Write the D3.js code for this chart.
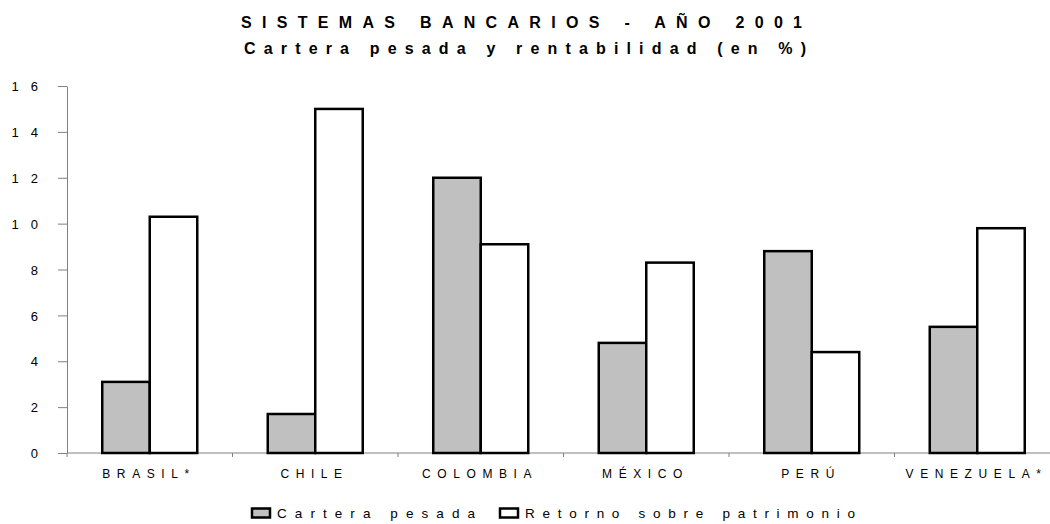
<!DOCTYPE html>
<html><head><meta charset="utf-8">
<script src="https://cdn.jsdelivr.net/npm/d3@7/dist/d3.min.js"></script>
<style>
html,body{margin:0;padding:0;background:#fff;}
svg{display:block;font-family:"Liberation Sans",Arial,sans-serif;}
</style></head>
<body>
<svg id="chart" width="1050" height="524"></svg>
<script>
const categories = ["BRASIL*", "CHILE", "COLOMBIA", "MÉXICO", "PERÚ", "VENEZUELA*"];
const seriesNames = ["Cartera pesada", "Retorno sobre patrimonio"];
const carteraPesada = [3.1, 1.7, 12.0, 4.8, 8.8, 5.5];
const retornoPatrimonio = [10.3, 15.0, 9.1, 8.3, 4.4, 9.8];
const yTicks = [0, 2, 4, 6, 8, 10, 12, 14, 16];
const titleLines = ["SISTEMAS BANCARIOS - AÑO 2001", "Cartera pesada y rentabilidad (en %)"];
const colors = ["#c0c0c0", "#ffffff"];

const svg = d3.select("#chart");
const left = 67, baseY = 453, topY = 86, step = 165.5;

const x = d3.scaleBand().domain(categories).range([left, left + step * categories.length]).padding(0);
const xs = d3.scaleBand().domain([0, 1]).range([0, x.bandwidth()]).paddingInner(0).paddingOuter(0.742);
const y = d3.scaleLinear().domain([0, 16]).range([baseY, topY]);

// spread letters so the text spans a target width
function fit(sel, width) {
  sel.attr("letter-spacing", 0);
  const n = sel.text().length;
  const w = sel.node().getComputedTextLength();
  const ls = (width - w) / (n - 1);
  sel.attr("letter-spacing", ls);
  return ls;
}

// title
const t1 = svg.append("text").attr("x", 241).attr("y", 28).attr("font-weight", "bold").attr("font-size", 16).attr("fill", "#000").text(titleLines[0]);
fit(t1, 561);
const t2 = svg.append("text").attr("x", 244).attr("y", 54).attr("font-weight", "bold").attr("font-size", 16).attr("fill", "#000").text(titleLines[1]);
fit(t2, 562);

// y axis
const yAxis = d3.axisLeft(y).tickValues(yTicks).tickSize(9).tickSizeOuter(0).tickFormat(d => String(d));
const gy = svg.append("g").attr("transform", `translate(${left},0)`).call(yAxis);
gy.select(".domain").attr("stroke", "#808080");
gy.selectAll(".tick line").attr("stroke", "#808080");
gy.selectAll(".tick text").attr("font-size", 13).attr("font-family", "Liberation Sans, Arial, sans-serif").attr("fill", "#000")
  .attr("text-anchor", "end").attr("x", -29).attr("dy", "0.36em")
  .each(function(d){ const s = d3.select(this); if (String(d).length > 1) { s.attr("letter-spacing", 12); s.attr("x", -29 + 12); } });

// x axis baseline and boundary ticks
svg.append("line").attr("x1", left).attr("x2", 1050).attr("y1", baseY).attr("y2", baseY).attr("stroke", "#808080");
const boundaries = categories.map(c => x(c)).concat([x(categories[categories.length-1]) + step]);
svg.selectAll("line.bt").data(boundaries).enter().append("line").attr("class", "bt")
  .attr("x1", d => d).attr("x2", d => d).attr("y1", baseY).attr("y2", baseY + 4).attr("stroke", "#808080");

// x labels
const xlLs = 6.6;
svg.selectAll("text.xl").data(categories).enter().append("text").attr("class", "xl")
  .attr("x", d => x(d) + x.bandwidth() / 2 - 4 + xlLs / 2).attr("y", 477.5).attr("text-anchor", "middle")
  .attr("font-size", 12).attr("letter-spacing", xlLs).attr("fill", "#000").text(d => d);

// bars
const series = [carteraPesada, retornoPatrimonio];
series.forEach((vals, si) => {
  svg.selectAll(`rect.s${si}`).data(vals).enter().append("rect").attr("class", `s${si}`)
    .attr("x", (d, i) => x(categories[i]) + xs(si))
    .attr("width", xs.bandwidth())
    .attr("y", d => y(d))
    .attr("height", d => baseY - y(d))
    .attr("fill", colors[si]).attr("stroke", "#000").attr("stroke-width", 2.5);
});

// legend
const legendPos = [{bx: 252, tx: 277, w: 198}, {bx: 500, tx: 525, w: 330}];
seriesNames.forEach((name, i) => {
  const p = legendPos[i];
  svg.append("rect").attr("x", p.bx).attr("y", 508.5).attr("width", 18).attr("height", 9)
    .attr("fill", colors[i]).attr("stroke", "#000").attr("stroke-width", 2.5);
  const t = svg.append("text").attr("x", p.tx).attr("y", 518).attr("font-size", 13.5).attr("fill", "#000").text(name);
  fit(t, p.w);
});
</script>
</body></html>
